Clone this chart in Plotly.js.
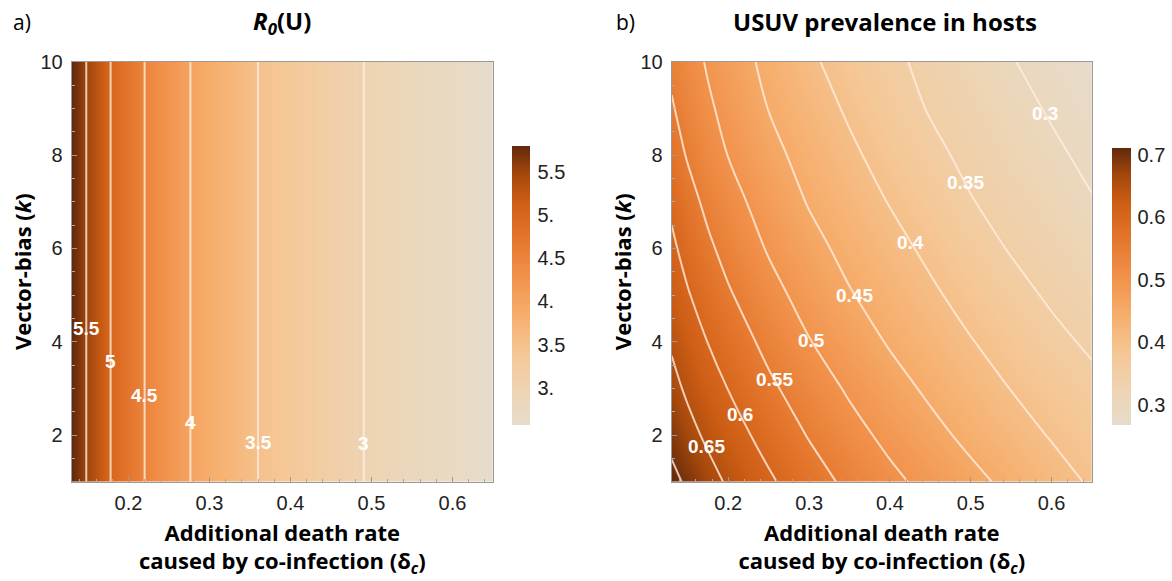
<!DOCTYPE html>
<html>
<head>
<meta charset="utf-8">
<script src="https://cdn.plot.ly/plotly-3.0.1.min.js"></script>
<style>html,body{margin:0;padding:0;background:#fff;}#chart{width:1172px;height:581px;}</style>
</head>
<body>
<div id="chart"></div>
<script>
// ---------- data: panel a) R0(U) versus additional death rate ----------
const deltaC_R0 = [0.13, 0.148, 0.178, 0.22, 0.2765, 0.36, 0.4905, 0.65];
const R0U       = [5.8,  5.5,   5.0,   4.5,  4.0,    3.5,  3.0,    2.57];
const kEnds     = [1, 10];

// ---------- data: panel b) USUV prevalence in hosts (rows = vector-bias k) ----------
const deltaC = [0.13, 0.15, 0.175, 0.2, 0.25, 0.3, 0.35, 0.4, 0.45, 0.5, 0.55, 0.6, 0.65];
const kVals  = [1, 2, 3, 4, 5, 6, 7, 8, 9, 10];
const prevK1  = [0.711, 0.693, 0.667, 0.644, 0.607, 0.572, 0.539, 0.511, 0.486, 0.462, 0.439, 0.417, 0.395];
const prevK2  = [0.688, 0.665, 0.641, 0.621, 0.583, 0.547, 0.516, 0.488, 0.463, 0.439, 0.418, 0.397, 0.378];
const prevK3  = [0.664, 0.642, 0.620, 0.599, 0.559, 0.525, 0.494, 0.467, 0.442, 0.420, 0.399, 0.380, 0.361];
const prevK4  = [0.644, 0.624, 0.599, 0.577, 0.537, 0.502, 0.473, 0.446, 0.424, 0.402, 0.382, 0.361, 0.343];
const prevK5  = [0.626, 0.603, 0.579, 0.555, 0.516, 0.482, 0.453, 0.430, 0.407, 0.385, 0.364, 0.344, 0.328];
const prevK6  = [0.608, 0.585, 0.558, 0.535, 0.496, 0.464, 0.437, 0.414, 0.391, 0.368, 0.347, 0.331, 0.315];
const prevK7  = [0.592, 0.566, 0.539, 0.517, 0.479, 0.447, 0.422, 0.398, 0.375, 0.352, 0.335, 0.319, 0.302];
const prevK8  = [0.571, 0.546, 0.522, 0.499, 0.463, 0.434, 0.408, 0.383, 0.360, 0.340, 0.324, 0.307, 0.291];
const prevK9  = [0.554, 0.532, 0.507, 0.486, 0.449, 0.421, 0.394, 0.370, 0.347, 0.330, 0.313, 0.296, 0.280];
const prevK10 = [0.540, 0.520, 0.495, 0.475, 0.438, 0.407, 0.382, 0.359, 0.339, 0.320, 0.302, 0.286, 0.270];

// ---------- tick / label texts ----------
const xTickVals = [0.2, 0.3, 0.4, 0.5, 0.6];
const xTickText = ['0.2', '0.3', '0.4', '0.5', '0.6'];
const yTickVals = [2, 4, 6, 8, 10];
const yTickText = ['2', '4', '6', '8', '10'];
const r0BarVals = [3, 3.5, 4, 4.5, 5, 5.5];
const r0BarText = ['3.', '3.5', '4.', '4.5', '5.', '5.5'];
const prevBarVals = [0.3, 0.4, 0.5, 0.6, 0.7];
const prevBarText = ['0.3', '0.4', '0.5', '0.6', '0.7'];
const r0Levels   = [5.5, 5, 4.5, 4, 3.5, 3];
const r0LevelTxt = ['5.5', '5', '4.5', '4', '3.5', '3'];
const prevLevels   = [0.65, 0.6, 0.55, 0.5, 0.45, 0.4, 0.35, 0.3];
const prevLevelTxt = ['0.65', '0.6', '0.55', '0.5', '0.45', '0.4', '0.35', '0.3'];

// label placement heights (k) along each contour (layout choice)
const r0LabelK   = [4.29, 3.57, 2.84, 2.27, 1.84, 1.81];
const prevLabelK = [1.75, 2.45, 3.2, 4.03, 5.0, 6.13, 7.42, 8.9];

// ---------- build ----------
const prevZ = [prevK1, prevK2, prevK3, prevK4, prevK5, prevK6, prevK7, prevK8, prevK9, prevK10];
const r0Z = kEnds.map(() => R0U.slice());

const cscale = [
  [0.00, '#e6dccb'],
  [0.10, '#ecd6b9'],
  [0.25, '#f5c897'],
  [0.40, '#f6ad6b'],
  [0.55, '#f08e47'],
  [0.70, '#e07026'],
  [0.80, '#cd5e15'],
  [0.90, '#a4480c'],
  [1.00, '#62280c']
];
const lineCol = 'rgba(255,238,225,0.8)';
function tickFont() { return {family: 'Arial', size: 20, color: '#222'}; }
function titleFont() { return {family: 'Open Sans', size: 22, color: '#000'}; }
function labelFont() { return {family: 'Arial', size: 19, color: '#ffffff'}; }

function xAtLevel(xs, vals, level) {
  for (let j = 0; j < vals.length - 1; j++) {
    const a = vals[j] - level, b = vals[j + 1] - level;
    if (a === 0) return xs[j];
    if (a * b <= 0) return xs[j] + (level - vals[j]) / (vals[j + 1] - vals[j]) * (xs[j + 1] - xs[j]);
  }
  return null;
}
function rowAtK(k) {
  let i = Math.min(Math.max(Math.floor(k) - 1, 0), kVals.length - 2);
  const t = (k - kVals[i]) / (kVals[i + 1] - kVals[i]);
  return prevZ[i].map((v, j) => v + t * (prevZ[i + 1][j] - v));
}

const traces = [
  {type: 'heatmap', x: deltaC_R0, y: kEnds, z: r0Z, zsmooth: 'best', colorscale: cscale,
   zmin: 2.57, zmax: 5.8, xaxis: 'x', yaxis: 'y', hoverinfo: 'skip',
   colorbar: {x: 511.7/1172, xanchor: 'left', xpad: 0, ypad: 0, y: 1 - 285.5/581, yanchor: 'middle',
     len: 279, lenmode: 'pixels', thickness: 18, outlinewidth: 0,
     tickvals: r0BarVals, ticktext: r0BarText, ticks: 'outside', ticklen: 4, tickcolor: 'rgba(0,0,0,0)',
     tickfont: tickFont()}},
  {type: 'contour', x: deltaC_R0, y: kEnds, z: r0Z, showscale: false, hoverinfo: 'skip',
   contours: {start: 3, end: 5.5, size: 0.5, coloring: 'none'},
   line: {color: lineCol, width: 2}, xaxis: 'x', yaxis: 'y'},
  {type: 'heatmap', x: deltaC, y: kVals, z: prevZ, zsmooth: 'best', colorscale: cscale,
   zmin: 0.268, zmax: 0.711, xaxis: 'x2', yaxis: 'y2', hoverinfo: 'skip',
   colorbar: {x: 1111.7/1172, xanchor: 'left', xpad: 0, ypad: 0, y: 1 - 286.5/581, yanchor: 'middle',
     len: 277, lenmode: 'pixels', thickness: 19, outlinewidth: 0,
     tickvals: prevBarVals, ticktext: prevBarText, ticks: 'outside', ticklen: 3, tickcolor: 'rgba(0,0,0,0)',
     tickfont: tickFont()}},
  {type: 'contour', x: deltaC, y: kVals, z: prevZ, showscale: false, hoverinfo: 'skip',
   contours: {start: 0.3, end: 0.7, size: 0.05, coloring: 'none'},
   line: {color: lineCol, width: 2, smoothing: 1}, xaxis: 'x2', yaxis: 'y2'}
];

const annotations = [];
r0Levels.forEach((lv, i) => {
  annotations.push({xref: 'x', yref: 'y', x: xAtLevel(deltaC_R0, R0U, lv), y: r0LabelK[i],
    text: '<b>' + r0LevelTxt[i] + '</b>', showarrow: false, font: labelFont()});
});
prevLevels.forEach((lv, i) => {
  const row = rowAtK(prevLabelK[i]);
  annotations.push({xref: 'x2', yref: 'y2', x: xAtLevel(deltaC, row, lv), y: prevLabelK[i],
    text: '<b>' + prevLevelTxt[i] + '</b>', showarrow: false, font: labelFont()});
});
// panel titles and letters
annotations.push({xref: 'paper', yref: 'paper', x: 282/1172, y: 1 - 22/581, xanchor: 'center', yanchor: 'middle',
  text: '<b><i>R</i><sub><i>0</i></sub>(U)</b>', showarrow: false, font: {family: 'Open Sans', size: 24, color: '#000'}});
annotations.push({xref: 'paper', yref: 'paper', x: 885/1172, y: 1 - 22/581, xanchor: 'center', yanchor: 'middle',
  text: '<b>USUV prevalence in hosts</b>', showarrow: false, font: {family: 'Open Sans', size: 24, color: '#000'}});
annotations.push({xref: 'paper', yref: 'paper', x: 22/1172, y: 1 - 22/581, xanchor: 'center', yanchor: 'middle',
  text: 'a)', showarrow: false, font: {family: 'Open Sans', size: 21, color: '#000'}});
annotations.push({xref: 'paper', yref: 'paper', x: 625/1172, y: 1 - 22/581, xanchor: 'center', yanchor: 'middle',
  text: 'b)', showarrow: false, font: {family: 'Open Sans', size: 21, color: '#000'}});

function xAxis(domain, anchor) {
  return {domain: domain, anchor: anchor, range: [0.13, 0.65], tickvals: xTickVals, ticktext: xTickText,
    ticks: 'inside', ticklen: 5, tickcolor: '#999', tickfont: tickFont(), ticklabelstandoff: 3,
    showgrid: false, zeroline: false,
    showline: true, mirror: true, linecolor: '#999', linewidth: 1,
    minor: {dtick: 0.02, tick0: 0, ticks: 'inside', ticklen: 3, tickcolor: '#aaa', showgrid: false},
    title: {text: '<b>Additional death rate<br>caused by co-infection (δ<sub><i>c</i></sub>)</b>', font: titleFont(), standoff: 12}};
}
function yAxis(domain, anchor) {
  return {domain: domain, anchor: anchor, range: [1, 10], tickvals: yTickVals, ticktext: yTickText,
    ticks: 'inside', ticklen: 5, tickcolor: '#999', tickfont: tickFont(), ticklabelstandoff: 4,
    showgrid: false, zeroline: false,
    showline: true, mirror: true, linecolor: '#999', linewidth: 1,
    minor: {dtick: 0.5, ticks: 'inside', ticklen: 3, tickcolor: '#aaa', showgrid: false},
    title: {text: '<b>Vector-bias (<i>k</i>)</b>', font: titleFont(), standoff: 2}};
}
const yDom = [1 - 481.7/581, 1 - 61.7/581];
const layout = {
  width: 1172, height: 581, margin: {l: 0, r: 0, t: 0, b: 0},
  paper_bgcolor: '#fff', plot_bgcolor: '#fff', showlegend: false,
  xaxis: xAxis([71.7/1172, 493/1172], 'y'),
  yaxis: yAxis(yDom, 'x'),
  xaxis2: xAxis([671.7/1172, 1092/1172], 'y2'),
  yaxis2: yAxis(yDom, 'x2'),
  annotations: annotations
};
Plotly.newPlot('chart', traces, layout, {displayModeBar: false, staticPlot: true});
</script>
</body>
</html>
